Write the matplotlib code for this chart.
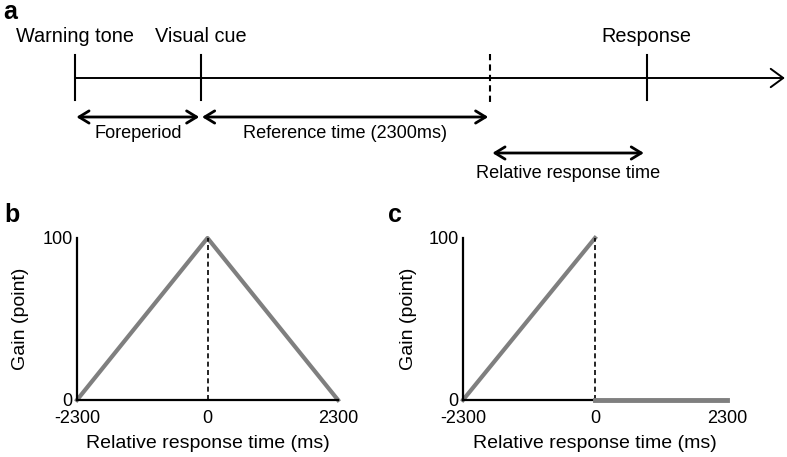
import matplotlib.pyplot as plt

plt.rcParams['font.family'] = ['Liberation Sans', 'DejaVu Sans']

# panel a: task timeline (ms, warning tone at 0)
event_names = ["Warning tone", "Visual cue", "Response"]
event_times = [0, 1000, 4550]
reference_end = 3300
timeline_end = 5650
span_names = ["Foreperiod", "Reference time (2300ms)"]
span_starts = [0, 1000]
span_ends = [1000, 3300]
rel_name = "Relative response time"

# panels b and c: gain functions
rel_ticks = [-2300, 0, 2300]
gain_ticks = [0, 100]
b_x = [-2300, 0, 2300]
b_gain = [0, 100, 0]
c_rise_x = [-2300, 0]
c_rise = [0, 100]
c_flat_x = [0, 2300]
c_flat = [0, 0]

W, H = 787, 457
fig = plt.figure(figsize=(W / 100, H / 100), dpi=100)

# ---- panel a ----
ax = fig.add_axes([0, 1 - 195 / H, 1, 195 / H])
ax.set_xlim(-597, 5667)
ax.set_ylim(195, 0)
ax.axis('off')

ax.annotate('', xy=(timeline_end, 78), xytext=(0, 78),
            arrowprops=dict(arrowstyle='->, head_length=0.45, head_width=0.33',
                            lw=1.4, color='black', shrinkA=0, shrinkB=0,
                            mutation_scale=20))
for name, t in zip(event_names, event_times):
    ax.plot([t, t], [55, 100], color='black', lw=1.5)
    ax.text(t, 37, name, ha='center', va='center', fontsize=14.3)
ax.plot([reference_end, reference_end], [54, 105], color='black', lw=1.5,
        ls=(0, (3, 2)))

arrow_kw = dict(arrowstyle='<->, head_length=0.36, head_width=0.22',
                lw=2.0, color='black', mutation_scale=20)
for name, s, e in zip(span_names, span_starts, span_ends):
    ax.annotate('', xy=(e, 117), xytext=(s, 117),
                arrowprops=dict(shrinkA=1, shrinkB=1, **arrow_kw))
    ax.text((s + e) / 2, 134, name, ha='center', va='center', fontsize=13.1)
ax.annotate('', xy=(event_times[2], 153), xytext=(reference_end, 153),
            arrowprops=dict(shrinkA=2, shrinkB=2, **arrow_kw))
ax.text((reference_end + event_times[2]) / 2, 174, rel_name,
        ha='center', va='center', fontsize=13.1)

fig.text(10 / W, 1 - 12 / H, 'a', fontsize=18, fontweight='bold',
         ha='center', va='center')


# ---- panels b and c ----
def gain_axes(left, right, letter, letter_x, ylab_x):
    a = fig.add_axes([left / W, 1 - 400 / H, (right - left) / W, (400 - 238) / H])
    a.set_xlim(-2300, 2300)
    a.set_ylim(0, 100)
    for s in ['top', 'right']:
        a.spines[s].set_visible(False)
    for s in ['left', 'bottom']:
        a.spines[s].set_linewidth(1.6)
    a.set_xticks(rel_ticks)
    a.set_xticklabels([str(v) for v in rel_ticks])
    a.set_yticks(gain_ticks)
    a.tick_params(length=0, labelsize=13)
    a.tick_params(axis='x', pad=7)
    a.tick_params(axis='y', pad=3)
    a.set_xlabel('Relative response time (ms)', fontsize=14, labelpad=6)
    a.set_ylabel('Gain (point)', fontsize=14)
    a.yaxis.set_label_coords((ylab_x - left) / (right - left), 0.5)
    a.plot([0, 0], [0, 100], color='black', lw=1.2, ls=(0, (3, 2)),
           clip_on=False, zorder=3)
    fig.text(letter_x / W, 1 - 215 / H, letter, fontsize=18,
             fontweight='bold', ha='center', va='center')
    return a


gray = '#7f7f7f'
ax_b = gain_axes(77, 338, 'b', 12, 29)
ax_b.plot(b_x, b_gain, color=gray, lw=3, clip_on=False, zorder=2)

ax_c = gain_axes(463, 727, 'c', 395, 417)
ax_c.plot(c_rise_x, c_rise, color=gray, lw=3, clip_on=False, zorder=2)
ax_c.plot(c_flat_x, c_flat, color=gray, lw=3.5, clip_on=False, zorder=4)

fig.savefig('out.png', dpi=100)
